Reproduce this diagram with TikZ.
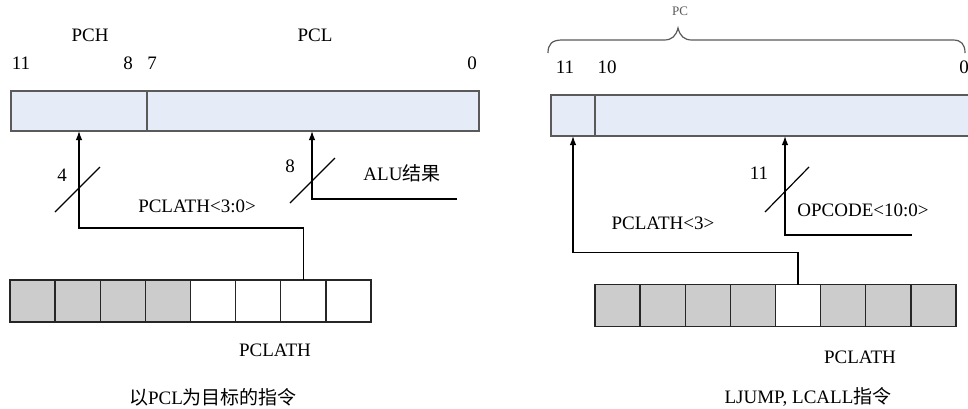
\documentclass[tikz,border=0pt]{standalone}
\usepackage{fontspec}
\setmainfont{Liberation Serif}
\newfontfamily\cjk{Noto Sans CJK SC}
\usetikzlibrary{arrows.meta}
\definecolor{regblue}{HTML}{E6ECF7}
\definecolor{regedge}{HTML}{5A5A5A}
\definecolor{cellgray}{HTML}{CCCCCC}
\tikzset{
  reg/.style={draw=regedge, fill=regblue, line width=1.3pt, inner sep=0pt, outer sep=0pt, anchor=north west},
  cell/.style={draw=black!85, line width=1.3pt, inner sep=0pt, outer sep=0pt, minimum width=45.125pt, minimum height=42pt},
  lbl/.style={inner sep=0pt, font=\fontsize{19}{22}\selectfont},
  arr/.style={-{Latex[length=9pt,width=6.5pt]}, line width=1.3pt, black},
  wire/.style={line width=1.2pt, black!80},
  slash/.style={line width=1.2pt, black}
}
\begin{document}
\begin{tikzpicture}[x=1pt,y=-1pt]
\clip (0,0) rectangle (968,408);
\fill[white] (0,0) rectangle (968,408);

% ---------- left diagram ----------
\node[reg, minimum width=136pt, minimum height=40pt] (pch) at (11,91) {};
\node[reg, minimum width=332pt, minimum height=40pt] (pcl) at (147,91) {};
\node[lbl] (tpch) at (90,35) {PCH};
\node[lbl] (tpcl) at (315,35) {PCL};
\node[lbl] (b11) at (21,63) {11};
\node[lbl] (b8) at (128,63) {8};
\node[lbl] (b7) at (152,63) {7};
\node[lbl] (b0) at (472,63) {0};

\foreach \i/\c in {1/cellgray,2/cellgray,3/cellgray,4/cellgray,5/white,6/white,7/white,8/white}
  \node[cell, fill=\c] (l\i) at ({10+45.125*(\i-0.5)},301) {};

\coordinate (alu) at (457,199);
\coordinate (t2) at (312,131);
\draw[arr] (l7.north) -- ++(0,-52) -| (pch.south);
\draw[arr] (alu) -| (t2);
\draw[slash] (55,212) -- (100,167);
\draw[slash] (290,203) -- (335,158);
\node[lbl] (n4) at (62,175) {4};
\node[lbl] (n8) at (290,166) {8};
\node[lbl] (talu) at (402,173) {ALU{\cjk 结果}};
\node[lbl] (tlath) at (197,206) {PCLATH<3:0>};
\node[lbl] (tpclath1) at (275,350) {PCLATH};
\node[lbl] (cap1) at (213,397) {{\cjk 以}PCL{\cjk 为目标的指令}};

% ---------- right diagram ----------
\node[reg, minimum width=44pt, minimum height=41pt] (r11) at (551,95) {};
\node[reg, minimum width=380pt, minimum height=41pt] (r10) at (595,95) {};
\draw[line width=1.2pt, regedge]
  (548,53) .. controls (548,44) and (552,40) .. (562,40)
  -- (664,40) .. controls (672,40) and (676,36) .. (678,28)
  .. controls (680,36) and (684,40) .. (692,40)
  -- (953,40) .. controls (961,40) and (965,44) .. (965,53);
\node[inner sep=0pt, font=\fontsize{13}{14}\selectfont, text=black!65] (tpc) at (680,11) {PC};
\node[lbl] (c11) at (565,67) {11};
\node[lbl] (c10) at (607,67) {10};
\node[lbl] (c0) at (964,67) {0};

\foreach \i/\c in {1/cellgray,2/cellgray,3/cellgray,4/cellgray,5/white,6/cellgray,7/cellgray,8/cellgray}
  \node[cell, fill=\c] (r\i) at ({595+45.125*(\i-0.5)},305.5) {};

\coordinate (t3) at (573,136);
\coordinate (op) at (912,235);
\coordinate (t4) at (785,136);
\draw[arr] (r5.north) -- ++(0,-32) -| (t3);
\draw[arr] (op) -| (t4);
\draw[slash] (765,212) -- (809,167);
\node[lbl] (m11) at (759,173) {11};
\node[lbl] (topc) at (863,210) {OPCODE<10:0>};
\node[lbl] (tl3) at (663,223) {PCLATH<3>};
\node[lbl] (tpclath2) at (860,357) {PCLATH};
\node[lbl] (cap2) at (808,397) {LJUMP, LCALL{\cjk 指令}};
\end{tikzpicture}
\end{document}
